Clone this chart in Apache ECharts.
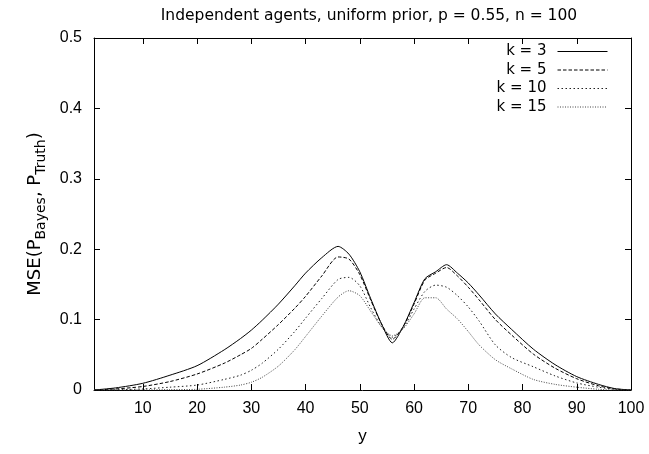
<!DOCTYPE html>
<html>
<head>
<meta charset="utf-8">
<script src="https://cdn.jsdelivr.net/npm/echarts@6/dist/echarts.min.js"></script>
<style>html,body{margin:0;padding:0;background:#fff;}#c{width:649px;height:454px;}</style>
</head>
<body>
<div id="c"></div>
<script>
var titleText = 'Independent agents, uniform prior, p = 0.55, n = 100';
var xTicks = [10, 20, 30, 40, 50, 60, 70, 80, 90, 100];
var seriesNames = ['k = 3', 'k = 5', 'k = 10', 'k = 15'];
var xs  = [1, 5, 10, 15, 20, 25, 28, 30, 32, 35, 38, 40, 43, 46, 48, 50, 52, 54, 56, 58, 60, 62, 64, 66, 68, 70, 72, 75, 78, 82, 86, 90, 94, 97, 100];
var k3  = [0, 0.003, 0.0095, 0.021, 0.0345, 0.057, 0.073, 0.085, 0.099, 0.122, 0.148, 0.166, 0.188, 0.204, 0.193, 0.168, 0.130, 0.094, 0.067, 0.090, 0.124, 0.158, 0.168, 0.178, 0.166, 0.152, 0.135, 0.108, 0.086, 0.058, 0.036, 0.019, 0.008, 0.002, 0];
var k5  = [0, 0.0015, 0.005, 0.012, 0.0227, 0.038, 0.050, 0.059, 0.072, 0.093, 0.116, 0.133, 0.162, 0.189, 0.186, 0.164, 0.128, 0.094, 0.072, 0.090, 0.122, 0.156, 0.166, 0.174, 0.162, 0.146, 0.128, 0.100, 0.078, 0.051, 0.031, 0.016, 0.006, 0.0015, 0];
var k10 = [0, 0.0003, 0.0015, 0.004, 0.007, 0.015, 0.021, 0.028, 0.038, 0.058, 0.083, 0.102, 0.130, 0.157, 0.160, 0.148, 0.117, 0.090, 0.075, 0.088, 0.115, 0.140, 0.149, 0.146, 0.134, 0.118, 0.098, 0.064, 0.046, 0.033, 0.020, 0.010, 0.004, 0.001, 0];
var k15 = [0, 0, 0.0002, 0.0005, 0.001, 0.004, 0.007, 0.011, 0.018, 0.034, 0.057, 0.076, 0.105, 0.132, 0.141, 0.134, 0.112, 0.090, 0.077, 0.087, 0.108, 0.131, 0.131, 0.115, 0.101, 0.083, 0.064, 0.043, 0.030, 0.015, 0.008, 0.004, 0.001, 0, 0];

function pairs(ys) { return xs.map(function (x, i) { return [x, ys[i]]; }); }

var font = 'Liberation Sans, Arial, Helvetica, sans-serif';
var wide = 'DejaVu Sans, sans-serif';
var chart = echarts.init(document.getElementById('c'), null, {renderer: 'canvas'});
var axisLine = {show: true, onZero: false, lineStyle: {color: '#000', width: 1}};
var tickStyle = {show: true, inside: true, length: 6, lineStyle: {color: '#000', width: 1}};
var styles = [
  {color: '#000', type: 'solid'},
  {color: '#000', type: [3.5, 2]},
  {color: '#222', type: [1.5, 2.5]},
  {color: '#444', type: [1, 1.5]}
];
var data = [k3, k5, k10, k15];

chart.setOption({
  animation: false,
  backgroundColor: '#fff',
  textStyle: {fontFamily: font},
  title: {
    text: titleText, left: 364, textAlign: 'center', top: 3,
    textStyle: {fontFamily: wide, fontSize: 15.5, fontWeight: 'normal', color: '#000'}
  },
  grid: {left: 94, right: 18, top: 38, bottom: 64, containLabel: false},
  legend: {
    orient: 'vertical', right: 41, top: 44, align: 'right', padding: 0,
    itemWidth: 50, itemHeight: 12, itemGap: 3.5,
    itemStyle: {opacity: 0},
    lineStyle: {width: 1},
    textStyle: {fontFamily: wide, fontSize: 15, color: '#000', padding: [0, 6, 0, 0]},
    data: seriesNames
  },
  xAxis: [{
    type: 'value', min: 1, max: 100, position: 'bottom',
    name: 'y', nameLocation: 'middle', nameGap: 38,
    nameTextStyle: {fontFamily: font, fontSize: 17, color: '#000'},
    axisLine: axisLine,
    axisTick: Object.assign({}, tickStyle, {customValues: xTicks}),
    axisLabel: {customValues: xTicks, fontFamily: font, fontSize: 16, color: '#000', margin: 11},
    splitLine: {show: false}
  }, {
    type: 'value', min: 1, max: 100, position: 'top',
    axisLine: axisLine,
    axisTick: Object.assign({}, tickStyle, {customValues: xTicks}),
    axisLabel: {show: false},
    splitLine: {show: false}
  }],
  yAxis: [{
    type: 'value', min: 0, max: 0.5, interval: 0.1, position: 'left',
    name: '{n|MSE(P}{s|Bayes}{n|, P}{s|Truth}{n|)}',
    nameLocation: 'middle', nameGap: 40, nameRotate: 90,
    nameTextStyle: {
      fontFamily: wide, fontSize: 18, color: '#000',
      rich: {
        n: {fontFamily: wide, fontSize: 18, color: '#000', verticalAlign: 'bottom', lineHeight: 24},
        s: {fontFamily: wide, fontSize: 14, color: '#000', verticalAlign: 'bottom', lineHeight: 24, padding: [0, 0, -5, 0]}
      }
    },
    axisLine: axisLine,
    axisTick: tickStyle,
    axisLabel: {
      fontFamily: font, fontSize: 16, color: '#000', margin: 12,
      formatter: function (v) { return v === 0 ? '0' : v.toFixed(1); }
    },
    splitLine: {show: false}
  }, {
    type: 'value', min: 0, max: 0.5, interval: 0.1, position: 'right',
    axisLine: axisLine,
    axisTick: tickStyle,
    axisLabel: {show: false},
    splitLine: {show: false}
  }],
  series: seriesNames.map(function (n, i) {
    return {
      name: n, type: 'line', xAxisIndex: 0, yAxisIndex: 0,
      data: pairs(data[i]), symbol: 'none', showSymbol: false, smooth: 0.25,
      lineStyle: {color: styles[i].color, type: styles[i].type, width: 1},
      itemStyle: {color: styles[i].color}
    };
  })
});
</script>
</body>
</html>
